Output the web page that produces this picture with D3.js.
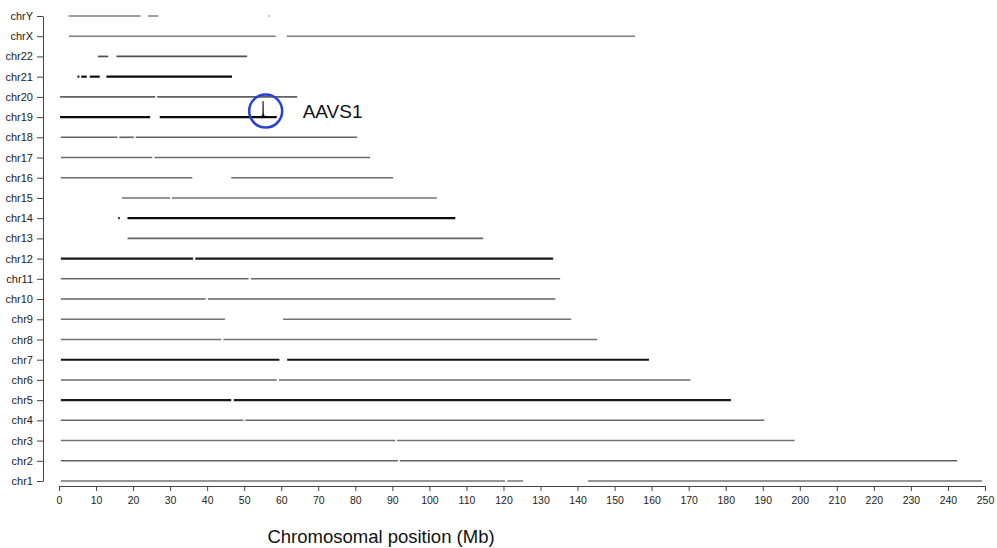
<html>
<head>
<script src="https://d3js.org/d3.v7.min.js"></script>
<style>
  body { margin: 0; background: #fff; }
  svg text { font-family: "Liberation Sans", Arial, sans-serif; }
  .axis path, .axis line { stroke: #444; }
  .axis text { fill: #222; }
</style>
</head>
<body>
<svg id="chart" width="997" height="548"></svg>
<script>
// chromosomes, bottom to top
const chroms = ["chr1","chr2","chr3","chr4","chr5","chr6","chr7","chr8","chr9","chr10","chr11","chr12",
                "chr13","chr14","chr15","chr16","chr17","chr18","chr19","chr20","chr21","chr22","chrX","chrY"];

// covered stretches per chromosome (Mb)
const segments = {
  chr1:  [[0.5,120.4],[121,125.3],[142.8,249.2]],
  chr2:  [[0.5,91.5],[92,242.5]],
  chr3:  [[0.5,90.8],[91.3,198.6]],
  chr4:  [[0.5,49.8],[50.3,190.4]],
  chr5:  [[0.5,46.5],[47.2,181.4]],
  chr6:  [[0.5,58.8],[59.4,170.5]],
  chr7:  [[0.5,59.5],[61.6,159.3]],
  chr8:  [[0.5,43.8],[44.4,145.3]],
  chr9:  [[0.5,44.8],[60.5,138.3]],
  chr10: [[0.5,39.6],[40.2,134]],
  chr11: [[0.5,51.2],[51.8,135.3]],
  chr12: [[0.5,36.2],[36.8,133.4]],
  chr13: [[18.5,114.5]],
  chr14: [[16,16.4],[18.5,107]],
  chr15: [[17,30],[30.5,102]],
  chr16: [[0.5,36],[46.5,90.2]],
  chr17: [[0.5,25.2],[25.8,84]],
  chr18: [[0.5,15.8],[16.3,20.2],[20.7,80.5]],
  chr19: [[0.3,24.6],[27.2,58.8]],
  chr20: [[0.3,26],[26.5,64.3]],
  chr21: [[5,5.5],[6,7.5],[8.3,11],[12.8,46.7]],
  chr22: [[10.5,13.3],[15.5,50.8]],
  chrX:  [[2.7,58.5],[61.5,155.5]],
  chrY:  [[2.6,22],[24,26.8],[56.6,56.9]]
};

// relative read density per chromosome (0-1)
const density = {
  chr1: 0.35, chr2: 0.45, chr3: 0.35, chr4: 0.4, chr5: 0.85, chr6: 0.4, chr7: 0.9, chr8: 0.35,
  chr9: 0.35, chr10: 0.45, chr11: 0.4, chr12: 0.85, chr13: 0.45, chr14: 0.95, chr15: 0.35, chr16: 0.4,
  chr17: 0.4, chr18: 0.45, chr19: 0.95, chr20: 0.45, chr21: 0.95, chr22: 0.55, chrX: 0.3, chrY: 0.3
};

// integration peak at AAVS1 (chr19)
const peakChrom = "chr19";
const peakPos = [54.4, 54.85, 55.03, 55.1, 55.17, 55.35, 55.8];
const peakCov = [0, 1.5, 4, 17, 4, 1.5, 0];
const peakLabel = "AAVS1";

const xTicks = d3.range(0, 251, 10);

const svg = d3.select("#chart");
const x = d3.scaleLinear().domain([0, 250]).range([59, 985]);
const y = d3.scalePoint().domain(chroms).range([481, 16]);
const shade = d3.scaleLinear().domain([0, 1]).range(["#b0b0b0", "#000"]);
const weight = d3.scaleLinear().domain([0, 1]).range([1.1, 2.2]);
const h = d3.scaleLinear().domain([0, 17]).range([0, 16]);

// chromosome coverage lines
const rows = svg.append("g").selectAll("g").data(chroms).join("g");
rows.selectAll("line")
  .data(c => segments[c].map(s => ({ c, s })))
  .join("line")
  .attr("x1", d => x(d.s[0]))
  .attr("x2", d => x(d.s[1]))
  .attr("y1", d => y(d.c))
  .attr("y2", d => y(d.c))
  .attr("stroke", d => shade(density[d.c]))
  .attr("stroke-width", d => weight(density[d.c]));

// peak
const peak = peakPos.map((p, i) => ({ p, v: peakCov[i] }));
svg.append("path")
  .datum(peak)
  .attr("fill", "#000")
  .attr("stroke", "#000")
  .attr("stroke-width", 0.6)
  .attr("d", d3.area()
    .x(d => x(d.p))
    .y0(y(peakChrom))
    .y1(d => y(peakChrom) - h(d.v)));

const cx = x(55.8), cy = y(peakChrom) - 6;
svg.append("circle")
  .attr("cx", cx).attr("cy", cy).attr("r", 16.5)
  .attr("fill", "none")
  .attr("stroke", "#2a3fd8")
  .attr("stroke-width", 2.5);

svg.append("text")
  .attr("x", cx + 37).attr("y", cy + 7)
  .attr("font-size", 19)
  .attr("fill", "#111")
  .text(peakLabel);

// axes
svg.append("g")
  .attr("class", "axis")
  .attr("transform", "translate(0,486)")
  .call(d3.axisBottom(x).tickValues(xTicks).tickSize(5).tickSizeOuter(0).tickPadding(6))
  .call(g => g.selectAll("text").attr("font-size", 10.5));

svg.append("g")
  .attr("class", "axis")
  .attr("transform", "translate(43,0)")
  .call(d3.axisLeft(y).tickSize(6).tickSizeOuter(0).tickPadding(4))
  .call(g => g.selectAll("text").attr("font-size", 11));

svg.append("text")
  .attr("x", 381).attr("y", 543)
  .attr("text-anchor", "middle")
  .attr("font-size", 18.5)
  .attr("fill", "#111")
  .text("Chromosomal position (Mb)");
</script>
</body>
</html>
